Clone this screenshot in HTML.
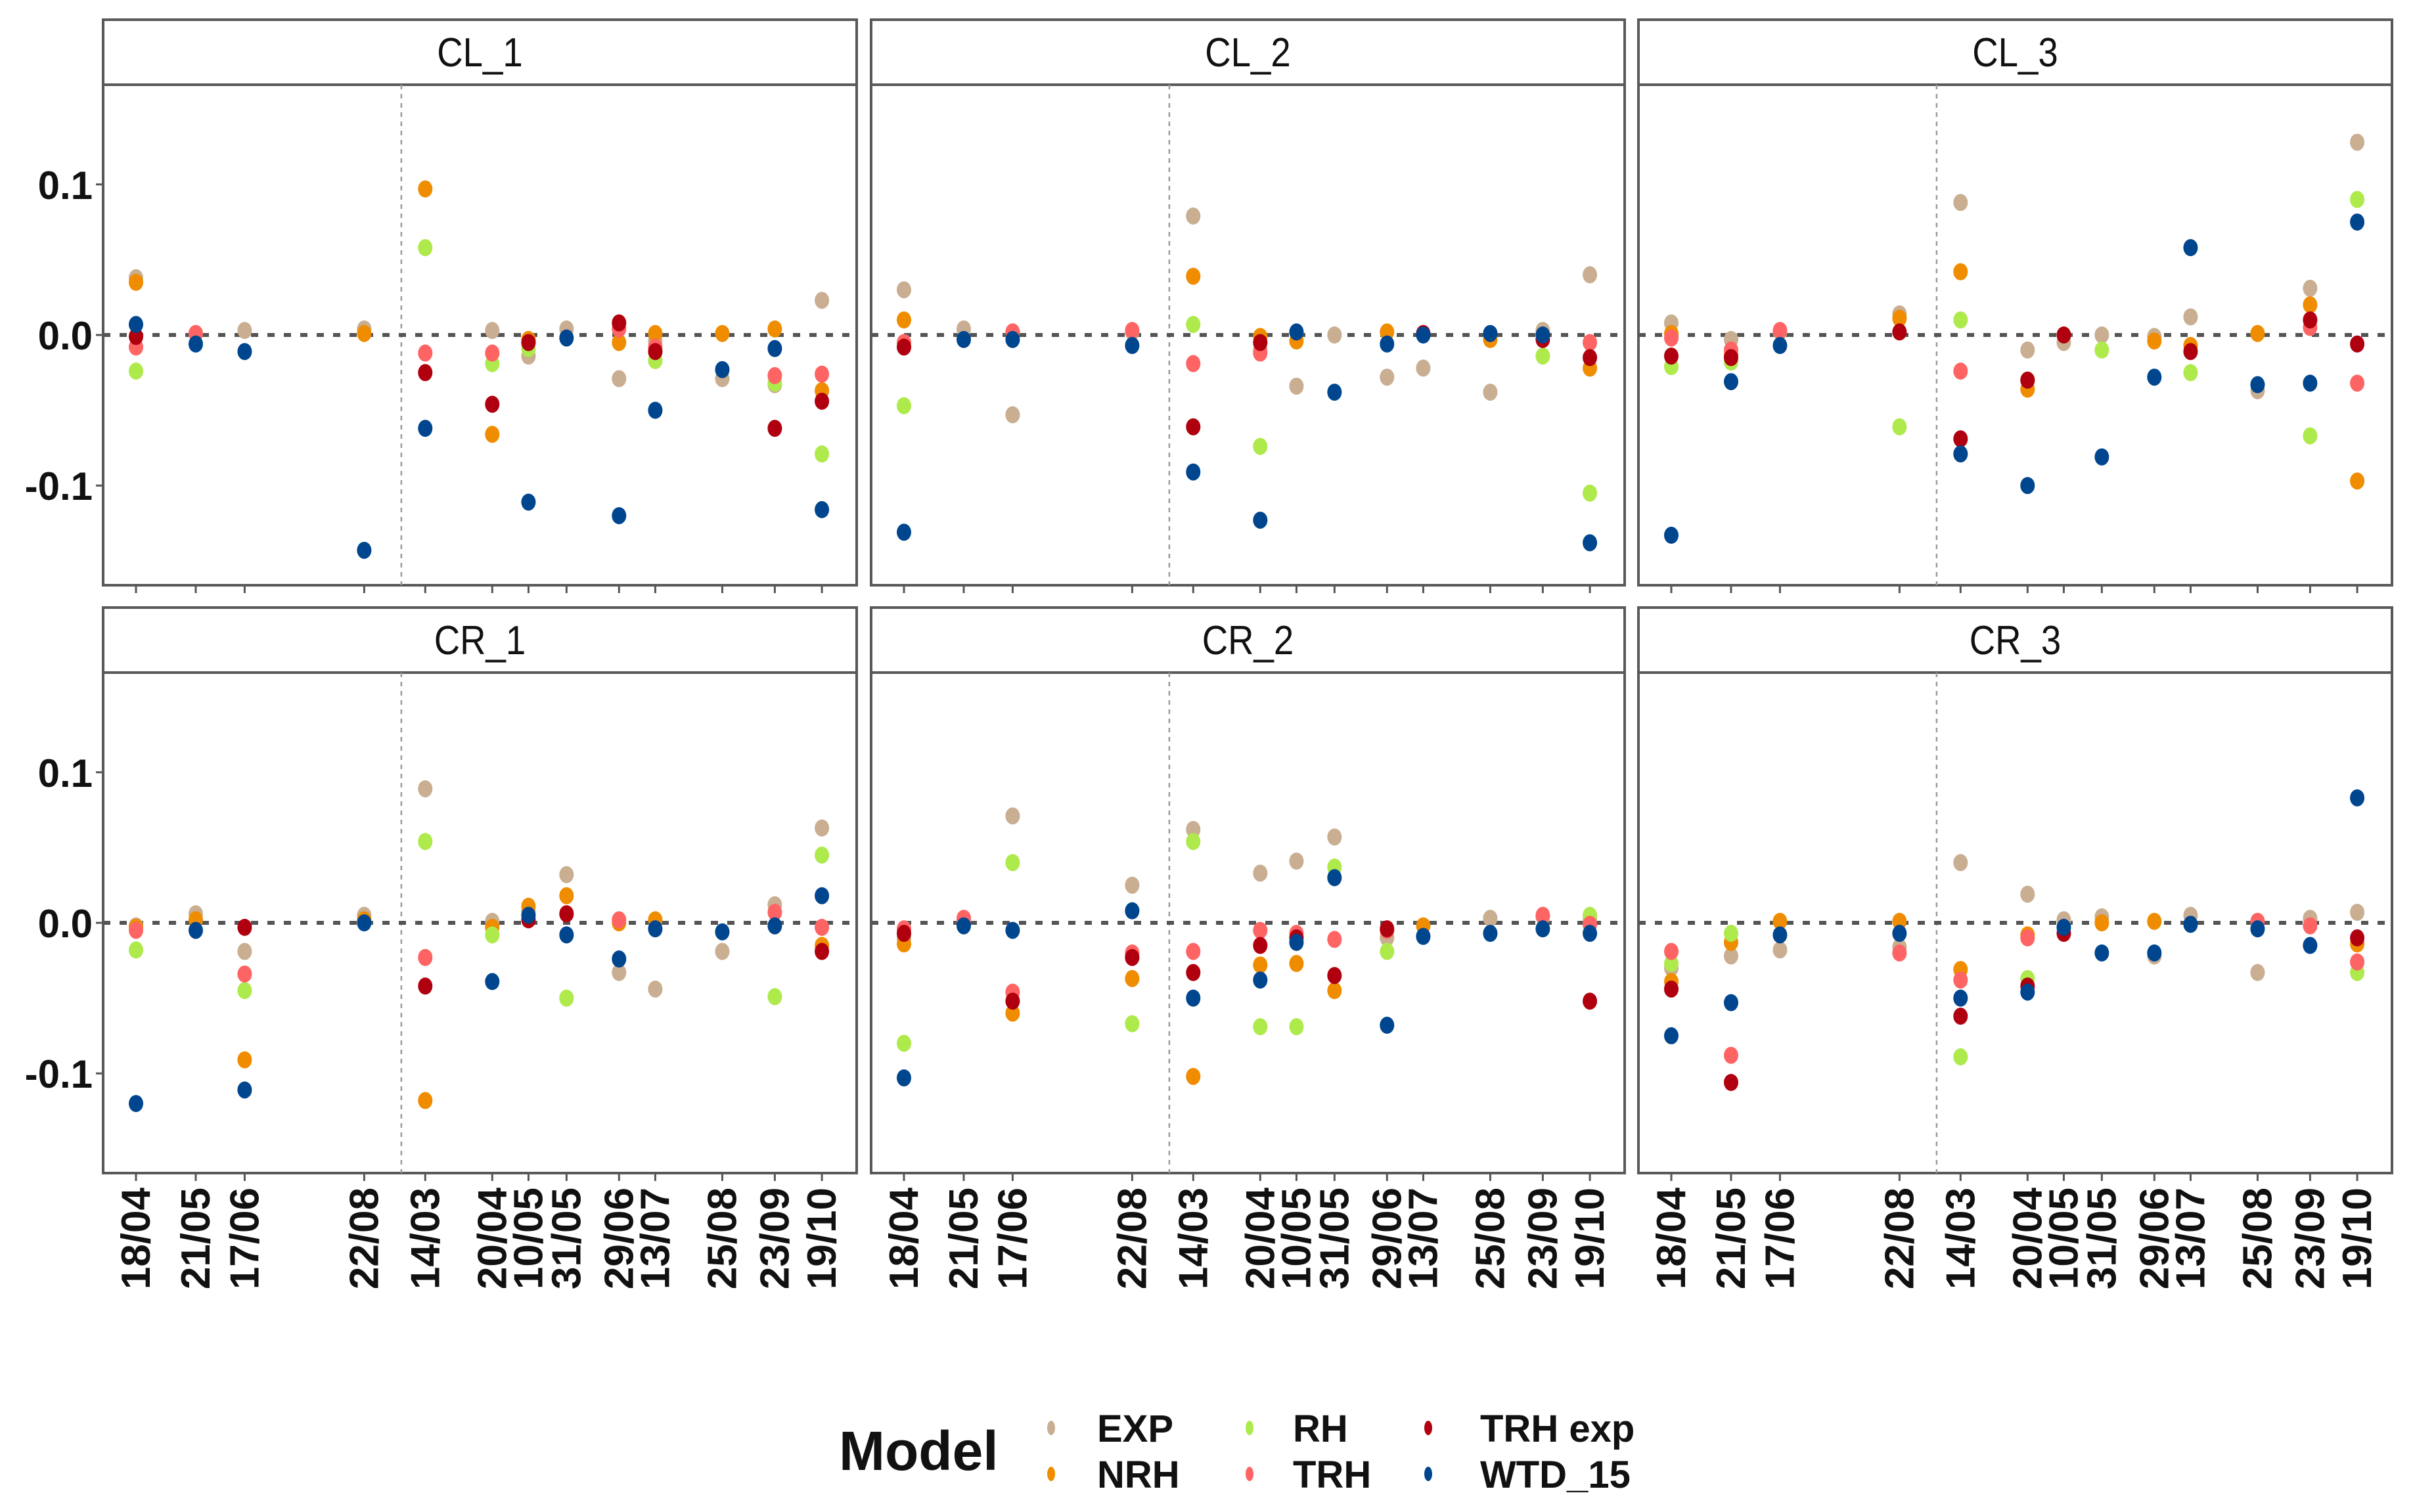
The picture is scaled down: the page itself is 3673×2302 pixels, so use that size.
<!DOCTYPE html>
<html><head><meta charset="utf-8"><style>
html,body{margin:0;padding:0;background:#fff;}
svg{display:block;font-family:"Liberation Sans",Arial,sans-serif;}
</style></head><body>
<svg id="chart" width="3673" height="2302" viewBox="0 0 3673 2302" xmlns="http://www.w3.org/2000/svg"></svg>
<script>
// ---- data ----
const dateLabels  = ['18/04','21/05','17/06','22/08','14/03','20/04','10/05','31/05','29/06','13/07','25/08','23/09','19/10'];
const sampleDates = ['18/04','21/05','17/06','22/08','14/03','20/04','10/05','31/05','29/06','19/07','25/08','23/09','19/10'];
const dateSeason = [1,1,1,1,2,2,2,2,2,2,2,2,2];
const models = ['EXP','NRH','RH','TRH','TRH exp','WTD_15'];
const panelNames = ['CL_1','CL_2','CL_3','CR_1','CR_2','CR_3'];
const yTicks = [0.1, 0.0, -0.1];
const yTickLabels = ['0.1','0.0','-0.1'];
const N = null;

// CL_1
const CL1_EXP  = [0.038,0.001,0.003,0.004,N,0.003,-0.014,0.004,-0.029,-0.004,-0.029,-0.033,0.023];
const CL1_NRH  = [0.035,N,N,0.001,0.097,-0.066,-0.003,N,-0.005,0.001,0.001,0.004,-0.037];
const CL1_RH   = [-0.024,N,N,N,0.058,-0.019,-0.009,N,N,-0.017,N,-0.032,-0.079];
const CL1_TRH  = [-0.008,0.001,N,N,-0.012,-0.012,-0.005,N,0.004,-0.008,N,-0.027,-0.026];
const CL1_TRHX = [-0.001,N,N,N,-0.025,-0.046,-0.005,N,0.008,-0.011,N,-0.062,-0.044];
const CL1_WTD  = [0.007,-0.006,-0.011,-0.143,-0.062,N,-0.111,-0.002,-0.120,-0.050,-0.023,-0.009,-0.116];
// CL_2
const CL2_EXP  = [0.030,0.004,-0.053,0.002,0.079,-0.010,-0.034,0.000,-0.028,-0.022,-0.038,0.003,0.040];
const CL2_NRH  = [0.010,N,0.002,N,0.039,-0.001,-0.004,N,0.002,N,-0.003,N,-0.022];
const CL2_RH   = [-0.047,N,N,N,0.007,-0.074,N,N,N,N,N,-0.014,-0.105];
const CL2_TRH  = [-0.005,N,0.002,0.003,-0.019,-0.012,N,N,N,N,N,N,-0.005];
const CL2_TRHX = [-0.008,N,N,N,-0.061,-0.005,N,N,N,0.001,N,-0.003,-0.015];
const CL2_WTD  = [-0.131,-0.003,-0.003,-0.007,-0.091,-0.123,0.002,-0.038,-0.006,0.000,0.001,0.000,-0.138];
// CL_3
const CL3_EXP  = [0.008,-0.003,0.002,0.014,0.088,-0.010,-0.005,0.000,-0.001,0.012,-0.037,0.031,0.128];
const CL3_NRH  = [0.001,-0.013,N,0.011,0.042,-0.036,N,N,-0.004,-0.007,0.001,0.020,-0.097];
const CL3_RH   = [-0.021,-0.018,N,-0.061,0.010,-0.030,N,-0.010,N,-0.025,N,-0.067,0.090];
const CL3_TRH  = [-0.002,-0.010,0.003,N,-0.024,-0.030,N,N,N,N,N,0.005,-0.032];
const CL3_TRHX = [-0.014,-0.015,N,0.002,-0.069,-0.030,0.000,N,N,-0.011,N,0.010,-0.006];
const CL3_WTD  = [-0.133,-0.031,-0.007,N,-0.079,-0.100,N,-0.081,-0.028,0.058,-0.033,-0.032,0.075];
// CR_1
const CR1_EXP  = [-0.002,0.006,-0.019,0.005,0.089,0.001,0.008,0.032,-0.033,-0.044,-0.019,0.012,0.063];
const CR1_NRH  = [-0.003,0.002,-0.091,0.002,-0.118,-0.003,0.011,0.018,0.000,0.002,N,-0.002,-0.015];
const CR1_RH   = [-0.018,N,-0.045,N,0.054,-0.008,N,-0.050,N,N,N,-0.049,0.045];
const CR1_TRH  = [-0.005,N,-0.034,N,-0.023,N,N,0.006,0.002,N,N,0.007,-0.003];
const CR1_TRHX = [N,N,-0.003,N,-0.042,N,0.002,0.006,N,N,N,N,-0.019];
const CR1_WTD  = [-0.120,-0.005,-0.111,0.000,N,-0.039,0.005,-0.008,-0.024,-0.004,-0.006,-0.002,0.018];
// CR_2
const CR2_EXP  = [-0.010,0.002,0.071,0.025,0.062,0.033,0.041,0.057,-0.010,N,0.003,0.004,0.002];
const CR2_NRH  = [-0.014,N,-0.060,-0.037,-0.102,-0.028,-0.027,-0.045,N,-0.002,N,N,N];
const CR2_RH   = [-0.080,N,0.040,-0.067,0.054,-0.069,-0.069,0.037,-0.019,N,N,N,0.005];
const CR2_TRH  = [-0.004,0.003,-0.046,-0.020,-0.019,-0.005,-0.007,-0.011,-0.005,N,N,0.005,-0.001];
const CR2_TRHX = [-0.007,N,-0.052,-0.023,-0.033,-0.015,-0.010,-0.035,-0.004,N,N,N,-0.052];
const CR2_WTD  = [-0.103,-0.002,-0.005,0.008,-0.050,-0.038,-0.013,0.030,-0.068,-0.009,-0.007,-0.004,-0.007];
// CR_3
const CR3_EXP  = [-0.030,-0.022,-0.018,-0.016,0.040,0.019,0.002,0.004,-0.022,0.005,-0.033,0.003,0.007];
const CR3_NRH  = [-0.039,-0.013,0.001,0.001,-0.031,-0.008,N,0.000,0.001,N,N,N,-0.014];
const CR3_RH   = [-0.027,-0.007,N,N,-0.089,-0.037,N,N,N,N,N,N,-0.033];
const CR3_TRH  = [-0.019,-0.088,N,-0.020,-0.038,-0.010,N,N,N,N,0.001,-0.002,-0.026];
const CR3_TRHX = [-0.044,-0.106,N,N,-0.062,-0.042,-0.007,N,N,N,N,N,-0.010];
const CR3_WTD  = [-0.075,-0.053,-0.008,-0.007,-0.050,-0.046,-0.003,-0.020,-0.020,-0.001,-0.004,-0.015,0.083];

const panelSeries = [
  [CL1_EXP,CL1_NRH,CL1_RH,CL1_TRH,CL1_TRHX,CL1_WTD],
  [CL2_EXP,CL2_NRH,CL2_RH,CL2_TRH,CL2_TRHX,CL2_WTD],
  [CL3_EXP,CL3_NRH,CL3_RH,CL3_TRH,CL3_TRHX,CL3_WTD],
  [CR1_EXP,CR1_NRH,CR1_RH,CR1_TRH,CR1_TRHX,CR1_WTD],
  [CR2_EXP,CR2_NRH,CR2_RH,CR2_TRH,CR2_TRHX,CR2_WTD],
  [CR3_EXP,CR3_NRH,CR3_RH,CR3_TRH,CR3_TRHX,CR3_WTD]
];

// ---- styling / layout ----
const colors = ['#c9ae92','#f08c00','#aeea4c','#ff6464','#b0000f','#00468f'];
const colLeft = [157,1326,2494];
const panelW = 1147;
const rowStrip = [30,925];
const stripH = 99;
const panelH = 762;
const yMax = 0.1662, yMin = -0.1662;
const monthStart = [0,31,59,90,120,151,181,212,243,273,304,334];
const season2Offset = 194.7;
const breakDay = 254.5;

const svg = document.getElementById('chart');
const NS = 'http://www.w3.org/2000/svg';
function mk(tag, attrs, parent){
  const e = document.createElementNS(NS, tag);
  for (const k in attrs) e.setAttribute(k, attrs[k]);
  (parent||svg).appendChild(e);
  return e;
}
function plotDay(i){
  const p = sampleDates[i].split('/');
  const doy = monthStart[+p[1]-1] + (+p[0]);
  return dateSeason[i] === 1 ? doy : doy + season2Offset;
}
function xScale(pd, left){ return left + 50 + (pd - 108) * 2.757; }
function yScale(v, top){ return top + (yMax - v) / (yMax - yMin) * panelH; }

for (let p = 0; p < 6; p++) {
  const col = p % 3, row = Math.floor(p / 3);
  const left = colLeft[col];
  const sTop = rowStrip[row];
  const top = sTop + stripH;
  const g = mk('g', {});
  
  

  const strip = mk('rect', {x:left, y:sTop, width:panelW, height:stripH, fill:'#fff', stroke:'#595959', 'stroke-width':4}, g);
  
  
  const st = mk('text', {x:left + panelW/2, y:sTop + 71, 'text-anchor':'middle', 'font-size':62, fill:'#111', transform:'translate(' + (left + panelW/2) + ' 0) scale(0.88 1) translate(' + (-(left + panelW/2)) + ' 0)'}, g);
  st.textContent = panelNames[p];
  
  

  const box = mk('rect', {x:left, y:top, width:panelW, height:panelH, fill:'#fff', stroke:'#595959', 'stroke-width':4}, g);
  
  

  const bx = xScale(breakDay, left);
  const vl = mk('line', {x1:bx, x2:bx, y1:top, y2:top + panelH, stroke:'#9a9a9a', 'stroke-width':2.5, 'stroke-dasharray':'7 7'}, g);
  
  

  const zy = yScale(0, top);
  const zl = mk('line', {x1:left, x2:left + panelW, y1:zy, y2:zy, stroke:'#555', 'stroke-width':6, 'stroke-dasharray':'11 14'}, g);
  
  

  for (let i = 0; i < dateLabels.length; i++) {
    const x = xScale(plotDay(i), left);
    const tk = mk('line', {x1:x, x2:x, y1:top + panelH + 2, y2:top + panelH + 12, stroke:'#555', 'stroke-width':3}, g);
    
    
    if (row === 1) {
      const ty = top + panelH + 22;
      const t = mk('text', {x:x + 21, y:ty, 'text-anchor':'end', 'font-size':62, 'font-weight':'bold', fill:'#111', transform:'rotate(-90 ' + (x + 21) + ' ' + ty + ')'}, g);
      t.textContent = dateLabels[i];
      
      
    }
  }
  if (col === 0) {
    for (let k = 0; k < yTicks.length; k++) {
      const y = yScale(yTicks[k], top);
      const tk = mk('line', {x1:left - 11, x2:left - 2, y1:y, y2:y, stroke:'#555', 'stroke-width':3}, g);
      
      
      const t = mk('text', {x:left - 16, y:y + 22, 'text-anchor':'end', 'font-size':60, 'font-weight':'bold', fill:'#111'}, g);
      t.textContent = yTickLabels[k];
      
      
    }
  }
  for (let m = 0; m < models.length; m++) {
    const vals = panelSeries[p][m];
    for (let i = 0; i < vals.length; i++) {
      if (vals[i] === null) continue;
      const cx = xScale(plotDay(i), left);
      const cy = yScale(vals[i], top);
      const pt = mk('ellipse', {cx:cx, cy:cy, rx:11, ry:13, fill:colors[m]}, g);
      
      
    }
  }
}

// ---- legend ----
const lg = mk('g', {});


const lt = mk('text', {x:1277, y:2238, 'font-size':84, 'font-weight':'bold', fill:'#111'}, lg);
lt.textContent = 'Model';


const legX = [1600,1600,1902,1902,2174,2174];
const legTX = [1670,1670,1968,1968,2253,2253];
const legY = [2174,2244,2174,2244,2174,2244];
for (let j = 0; j < 6; j++) {
  const e = mk('g', {}, lg);
  
  
  const cx = legX[j], cy = legY[j];
  mk('ellipse', {cx:cx, cy:cy, rx:6, ry:11, fill:colors[j]}, e);
  const t = mk('text', {x:legTX[j], y:cy + 21, 'font-size':58, 'font-weight':'bold', fill:'#111'}, e);
  t.textContent = models[j];
}
</script>
</body></html>
